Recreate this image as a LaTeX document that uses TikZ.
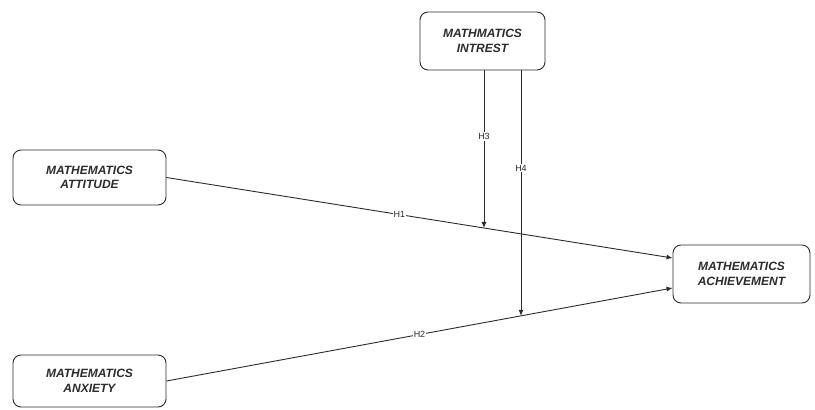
\documentclass[tikz,border=0pt]{standalone}
\usepackage{fontspec}
\setmainfont{Liberation Sans}
\usetikzlibrary{arrows.meta, positioning, calc}
\definecolor{cline}{HTML}{2B2B2B}
\tikzset{
  every picture/.style={line width=0.9pt},
  construct/.style={draw=cline, rounded corners=8pt, align=center, inner sep=0pt,
    font=\fontsize{12}{14.5}\selectfont\bfseries\itshape, text=cline},
  path/.style={-{Latex[length=6pt, width=5pt]}, draw=cline},
  hlabel/.style={fill=white, inner sep=1pt, font=\fontsize{9}{10}\selectfont, text=cline},
}

\begin{document}
\begin{tikzpicture}[x=1pt, y=-1pt]
  \useasboundingbox (0,0) rectangle (815,410);
  % ---- constructs
  \node[construct, minimum width=125pt, minimum height=58pt] (int) at (482.5,41) {MATHMATICS\\INTREST};
  \node[construct, minimum width=153pt, minimum height=55pt] (att) at (89.5,177.5) {MATHEMATICS\\ATTITUDE};
  \node[construct, minimum width=137pt, minimum height=58pt] (ach) at (741.5,274) {MATHEMATICS\\ACHIEVEMENT};
  \node[construct, minimum width=153pt, minimum height=52pt] (anx) at (89.5,381) {MATHEMATICS\\ANXIETY};
  % ---- direct paths
  \coordinate (a1) at ($(ach.west)+(0,-16)$);
  \coordinate (a2) at ($(ach.west)+(0,14)$);
  \draw[path] (att.east) -- node[hlabel, pos=0.46] {H1} (a1);
  \draw[path] (anx.east) -- node[hlabel, pos=0.5] {H2} (a2);
  % ---- moderation
  \coordinate (m1) at ($(att.east)!0.627!(a1)$);
  \coordinate (m2) at ($(anx.east)!0.700!(a2)$);
  \coordinate (i3) at (484,70);
  \coordinate (i4) at (521,70);
  \draw[path] (i3) -- node[hlabel, pos=0.42] {H3} (i3 |- m1);
  \draw[path] (i4) -- node[hlabel, pos=0.40] {H4} (i4 |- m2);
\end{tikzpicture}
\end{document}
